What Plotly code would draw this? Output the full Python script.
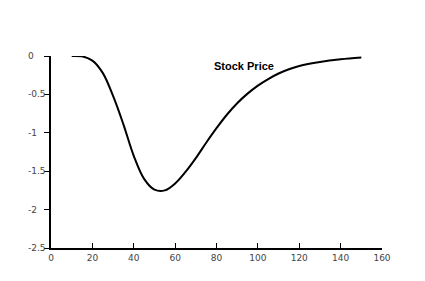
import plotly.graph_objects as go

x_vals = [10, 15, 20, 25, 30, 35, 40, 45, 50, 55, 60, 65, 70, 75, 80, 85, 90, 95, 100, 105, 110, 115, 120, 130, 140, 150]
y_vals = [0, -0.005, -0.06, -0.22, -0.52, -0.89, -1.30, -1.60, -1.74, -1.75, -1.66, -1.51, -1.33, -1.13,
          -0.94, -0.765, -0.615, -0.49, -0.385, -0.30, -0.228, -0.172, -0.13, -0.078, -0.043, -0.02]
series_name = "Stock Price"
x_ticks = [0, 20, 40, 60, 80, 100, 120, 140, 160]
y_ticks = [0, -0.5, -1, -1.5, -2, -2.5]
y_tick_labels = ["0", "-0.5", "-1", "-1.5", "-2", "-2.5"]

label_font = dict(family="DejaVu Sans", size=9, color="#444")

fig = go.Figure()
fig.add_trace(go.Scatter(x=x_vals, y=y_vals, mode="lines",
                         line=dict(color="black", width=2, shape="spline", smoothing=1.0),
                         name=series_name, showlegend=False))

fig.add_annotation(x=93.3, y=-0.13, text="<b>" + series_name + "</b>", showarrow=False,
                   font=dict(family="Liberation Sans", size=11, color="black"))

for v, t in zip(y_ticks, y_tick_labels):
    fig.add_annotation(xref="paper", x=0, xshift=-25, y=v, yref="y", text=t, showarrow=False,
                       xanchor="left", yanchor="middle", font=label_font)

fig.update_layout(
    width=425, height=261,
    margin=dict(l=51, r=43, t=56, b=13, autoexpand=False),
    paper_bgcolor="white", plot_bgcolor="white",
)
fig.update_xaxes(range=[0, 160], tickvals=x_ticks, ticks="inside", ticklen=5, tickcolor="black",
                 showline=True, linecolor="black", linewidth=1.5, showgrid=False, zeroline=False,
                 tickfont=label_font, automargin=False)
fig.update_yaxes(range=[-2.5, 0], tickvals=y_ticks, ticks="outside", ticklen=5, tickcolor="black",
                 showticklabels=False, showline=True, linecolor="black", linewidth=1.5, showgrid=False,
                 zeroline=False, automargin=False)

fig.write_html("out.html")
